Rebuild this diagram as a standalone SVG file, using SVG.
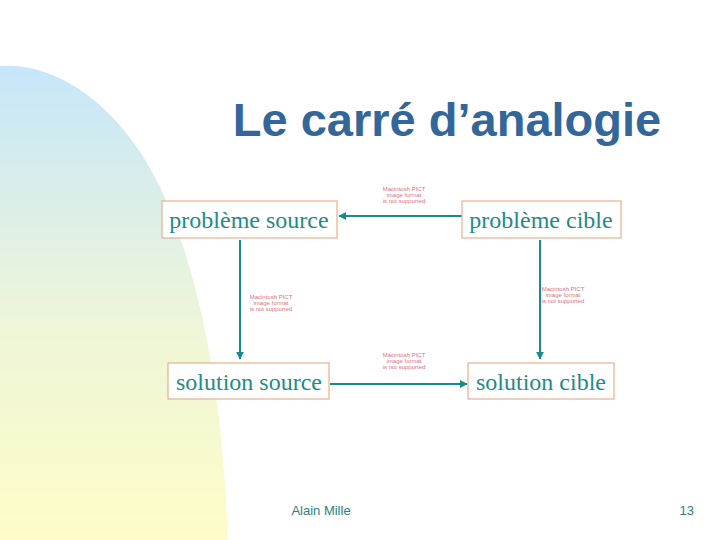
<svg xmlns="http://www.w3.org/2000/svg" width="720" height="540" viewBox="0 0 720 540">
<defs>
<linearGradient id="bg" x1="0" y1="0" x2="0" y2="1">
<stop offset="0" stop-color="#c6e6fa"/>
<stop offset="0.55" stop-color="#eef6d8"/>
<stop offset="1" stop-color="#fefcc8"/>
</linearGradient>
<marker id="ah" viewBox="0 0 10 10" refX="9" refY="5" markerWidth="4" markerHeight="4" orient="auto" markerUnits="strokeWidth">
<path d="M0,0 L10,5 L0,10 z" fill="#1a8a8a"/>
</marker>
<style>
.box{fill:#ffffff;stroke:#e8b08c;stroke-width:1.2}
.lbl{font-family:"Liberation Serif","DejaVu Serif",serif;font-size:24px;fill:#1f8a88;text-anchor:middle}
.pict{font-family:"Liberation Sans",Arial,sans-serif;font-size:6px;fill:#e07080;text-anchor:middle}
.conn{stroke:#1a8a8a;stroke-width:2;fill:none;marker-end:url(#ah)}
.foot{font-family:"Liberation Sans",Arial,sans-serif;font-size:13px;fill:#2a7f80}
</style>
</defs>
<rect width="720" height="540" fill="#ffffff"/>
<path d="M0,66 C60,62 130,110 170,210 C205,300 222,400 228,540 L0,540 Z" fill="url(#bg)"/>
<text x="447" y="136" font-family="'Liberation Sans',Arial,sans-serif" font-size="47" font-weight="bold" fill="#336699" text-anchor="middle">Le carré d’analogie</text>
<g id="connectors">
<line class="conn" x1="462" y1="216" x2="339" y2="216"/>
<line class="conn" x1="240" y1="240" x2="240" y2="359"/>
<line class="conn" x1="540" y1="240" x2="540" y2="359"/>
<line class="conn" x1="330" y1="384" x2="467" y2="384"/>
</g>
<g id="pict-top"><text class="pict" x="404" y="191">Macintosh PICT</text><text class="pict" x="404" y="197">image format</text><text class="pict" x="404" y="203">is not supported</text></g>
<g id="pict-left"><text class="pict" x="271" y="299">Macintosh PICT</text><text class="pict" x="271" y="305">image format</text><text class="pict" x="271" y="311">is not supported</text></g>
<g id="pict-right"><text class="pict" x="563" y="291" font-size="5">Macintosh PICT</text><text class="pict" x="563" y="297">image format</text><text class="pict" x="563" y="303">is not supported</text></g>
<g id="pict-bottom"><text class="pict" x="404" y="357">Macintosh PICT</text><text class="pict" x="404" y="363">image format</text><text class="pict" x="404" y="369">is not supported</text></g>
<g id="probleme-source"><rect class="box" x="162" y="201" width="175" height="37"/><text class="lbl" x="249" y="228">problème source</text></g>
<g id="probleme-cible"><rect class="box" x="462" y="201" width="159" height="37"/><text class="lbl" x="541" y="228">problème cible</text></g>
<g id="solution-source"><rect class="box" x="168" y="363" width="161" height="36"/><text class="lbl" x="249" y="390">solution source</text></g>
<g id="solution-cible"><rect class="box" x="468" y="363" width="146" height="36"/><text class="lbl" x="541" y="390">solution cible</text></g>
<text class="foot" x="321" y="515" text-anchor="middle">Alain Mille</text>
<text class="foot" x="694" y="515" text-anchor="end">13</text>
</svg>
